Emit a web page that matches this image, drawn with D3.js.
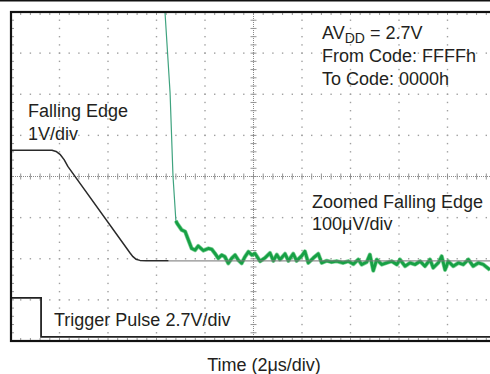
<!DOCTYPE html>
<html>
<head>
<meta charset="utf-8">
<script src="https://cdn.jsdelivr.net/npm/d3@7"></script>
<style>
  html, body { margin: 0; padding: 0; background: #fff; }
  svg { display: block; }
  text { font-family: "Liberation Sans", Arial, Helvetica, sans-serif; fill: #231f20; }
</style>
</head>
<body>
<svg id="chart" width="490" height="374"></svg>
<script>
// ---- Data (time in µs, 2 µs/div; vertical position in screen divisions, 0 = bottom) ----
const timeDomain = [0, 20];
const divDomain = [0, 8];

// Falling edge (1 V/div)
const fallT = [0, 1.53, 1.69, 1.86, 2.02, 2.19, 2.35, 4.91, 5.03, 5.15, 5.32, 5.57, 6.5, 20];
const fallV = [4.64, 4.64, 4.64, 4.61, 4.54, 4.41, 4.24, 2.14, 2.05, 1.99, 1.96, 1.95, 1.95, 1.95];

// Trigger pulse (2.7 V/div)
const trigT = [0, 1.24, 1.24, 20];
const trigV = [1.05, 1.05, 0.1, 0.1];

// Zoomed falling edge (100 µV/div)
const zoomT = [6.35, 6.56, 6.68, 6.80, 6.85, 7.04, 7.18, 7.31, 7.45, 7.59, 7.72, 7.93, 8.14, 8.28, 8.41, 8.55, 8.69, 8.82, 8.96, 9.10, 9.24, 9.37, 9.51, 9.65, 9.79, 9.93, 10.06, 10.27, 10.47, 10.68, 10.82, 10.96, 11.09, 11.30, 11.44, 11.64, 11.78, 11.99, 12.12, 12.26, 12.47, 12.67, 12.81, 13.02, 13.22, 13.43, 13.70, 13.91, 14.12, 14.32, 14.46, 14.67, 14.80, 14.94, 15.08, 15.29, 15.49, 15.70, 15.91, 16.04, 16.25, 16.45, 16.66, 16.87, 17.07, 17.28, 17.41, 17.62, 17.76, 17.90, 18.03, 18.24, 18.45, 18.65, 18.86, 19.06, 19.27, 19.48, 19.75];
const zoomV = [8.0, 6.03, 4.01, 2.92, 2.86, 2.70, 2.66, 2.46, 2.25, 2.21, 2.31, 2.20, 2.25, 2.23, 2.13, 2.01, 2.09, 2.05, 1.89, 2.01, 2.09, 1.97, 1.89, 2.05, 2.17, 2.09, 2.13, 1.94, 2.02, 2.14, 1.95, 2.10, 1.98, 2.12, 1.95, 2.12, 1.95, 2.07, 2.18, 1.90, 2.02, 2.12, 1.90, 1.95, 1.92, 1.94, 1.90, 1.94, 1.87, 1.98, 1.86, 1.92, 2.10, 1.71, 1.98, 1.86, 1.90, 1.94, 1.86, 1.98, 1.82, 1.90, 1.86, 1.94, 1.82, 1.98, 1.78, 1.90, 2.06, 1.73, 1.94, 1.82, 1.90, 1.86, 1.98, 1.82, 1.90, 1.86, 1.73];

// Labels
const labelFalling = ["Falling Edge", "1V/div"];
const labelCodes = ["From Code: FFFFh", "To Code: 0000h"];
const labelZoomed = ["Zoomed Falling Edge", "100\u03BCV/div"];
const labelTrigger = "Trigger Pulse 2.7V/div";
const labelXAxis = "Time (2\u03BCs/div)";

// ---- Drawing ----
const svg = d3.select("#chart");
const x = d3.scaleLinear().domain(timeDomain).range([11, 496]);
const y = d3.scaleLinear().domain(divDomain).range([341, 12]);

// top rule
svg.append("line").attr("x1", 0).attr("x2", 490).attr("y1", 0.8).attr("y2", 0.8)
  .attr("stroke", "#111").attr("stroke-width", 1.6);

const grid = svg.append("g");
const majorX = d3.range(2, 20, 2);
const majorY = d3.range(1, 8, 1);
const minorX = d3.range(0, 20.001, 0.4);
const minorY = d3.range(0, 8.001, 0.2);

// dotted major grid (excluding centre axes)
majorX.filter(t => t !== 10).forEach(t => {
  minorY.forEach(v => {
    grid.append("rect").attr("x", x(t) - 0.7).attr("y", y(v) - 0.7)
      .attr("width", 1.4).attr("height", 1.4).attr("fill", "#a0a0a0");
  });
});
majorY.filter(v => v !== 4).forEach(v => {
  minorX.forEach(t => {
    grid.append("rect").attr("x", x(t) - 0.7).attr("y", y(v) - 0.7)
      .attr("width", 1.4).attr("height", 1.4).attr("fill", "#a0a0a0");
  });
});

// centre axes with minor ticks
grid.append("line").attr("x1", x(0)).attr("x2", x(20)).attr("y1", y(4)).attr("y2", y(4))
  .attr("stroke", "#8a8a8a").attr("stroke-width", 1).attr("stroke-dasharray", "1,1");
grid.append("line").attr("x1", x(10)).attr("x2", x(10)).attr("y1", y(0)).attr("y2", y(8))
  .attr("stroke", "#8a8a8a").attr("stroke-width", 1).attr("stroke-dasharray", "1,1");
minorX.forEach(t => {
  grid.append("line").attr("x1", x(t)).attr("x2", x(t)).attr("y1", y(4) - 3).attr("y2", y(4) + 3)
    .attr("stroke", "#8a8a8a").attr("stroke-width", 0.9);
  grid.append("line").attr("x1", x(t)).attr("x2", x(t)).attr("y1", y(8)).attr("y2", y(8) + 3)
    .attr("stroke", "#8a8a8a").attr("stroke-width", 0.9);
  grid.append("line").attr("x1", x(t)).attr("x2", x(t)).attr("y1", y(0) - 3).attr("y2", y(0))
    .attr("stroke", "#8a8a8a").attr("stroke-width", 0.9);
});
minorY.forEach(v => {
  grid.append("line").attr("x1", x(10) - 3).attr("x2", x(10) + 3).attr("y1", y(v)).attr("y2", y(v))
    .attr("stroke", "#8a8a8a").attr("stroke-width", 0.9);
  grid.append("line").attr("x1", x(0)).attr("x2", x(0) + 3).attr("y1", y(v)).attr("y2", y(v))
    .attr("stroke", "#8a8a8a").attr("stroke-width", 0.9);
});

const line = d3.line().x(d => x(d[0])).y(d => y(d[1]));

// zoomed falling edge: thin steep part + thick noisy tail
const zoomPts = zoomT.map((t, i) => [t, zoomV[i]]);
const steep = zoomPts.filter(d => d[0] <= 6.86);
const tail = zoomPts.filter(d => d[0] >= 6.80);
svg.append("path").attr("d", line(steep)).attr("fill", "none")
  .attr("stroke", "#3fa37f").attr("stroke-width", 1.2);
svg.append("path").attr("d", line(tail)).attr("fill", "none")
  .attr("stroke", "#4cbf6e").attr("stroke-width", 4.2).attr("stroke-linejoin", "round").attr("opacity", 0.7);
svg.append("path").attr("d", line(tail)).attr("fill", "none")
  .attr("stroke", "#17a045").attr("stroke-width", 2.8).attr("stroke-linejoin", "round");

// falling edge trace
const fallPts = fallT.map((t, i) => [t, fallV[i]]);
svg.append("path").attr("d", line(fallPts.filter(d => d[0] <= 6.5))).attr("fill", "none")
  .attr("stroke", "#2a2a2a").attr("stroke-width", 1.5).attr("stroke-linejoin", "round");
svg.append("path").attr("d", line(fallPts.filter(d => d[0] >= 6.5))).attr("fill", "none")
  .attr("stroke", "#7a7a7a").attr("stroke-width", 1.2).attr("opacity", 0.85);

// trigger pulse
const trigPts = trigT.map((t, i) => [t, trigV[i]]);
svg.append("path").attr("d", line(trigPts)).attr("fill", "none")
  .attr("stroke", "#222").attr("stroke-width", 1.8);

// frame
svg.append("rect").attr("x", x(0)).attr("y", y(8)).attr("width", x(20) - x(0)).attr("height", y(0) - y(8))
  .attr("fill", "none").attr("stroke", "#111").attr("stroke-width", 2.2);

// texts
const fs = "18px";
svg.append("text").attr("x", 28).attr("y", 117).attr("font-size", fs).text(labelFalling[0]);
svg.append("text").attr("x", 28).attr("y", 140).attr("font-size", fs).text(labelFalling[1]);

const av = svg.append("text").attr("x", 322).attr("y", 39).attr("font-size", fs);
av.append("tspan").text("AV");
av.append("tspan").attr("font-size", "14px").attr("dy", 4).text("DD");
av.append("tspan").attr("dy", -4).text(" = 2.7V");
svg.append("text").attr("x", 322).attr("y", 62).attr("font-size", fs).text(labelCodes[0]);
svg.append("text").attr("x", 322).attr("y", 85).attr("font-size", fs).text(labelCodes[1]);

svg.append("text").attr("x", 312).attr("y", 208).attr("font-size", fs).text(labelZoomed[0]);
svg.append("text").attr("x", 312).attr("y", 230).attr("font-size", fs).text(labelZoomed[1]);

svg.append("text").attr("x", 54).attr("y", 326).attr("font-size", fs).text(labelTrigger);

svg.append("text").attr("x", 264).attr("y", 371).attr("font-size", fs).attr("text-anchor", "middle").text(labelXAxis);
</script>
</body>
</html>
